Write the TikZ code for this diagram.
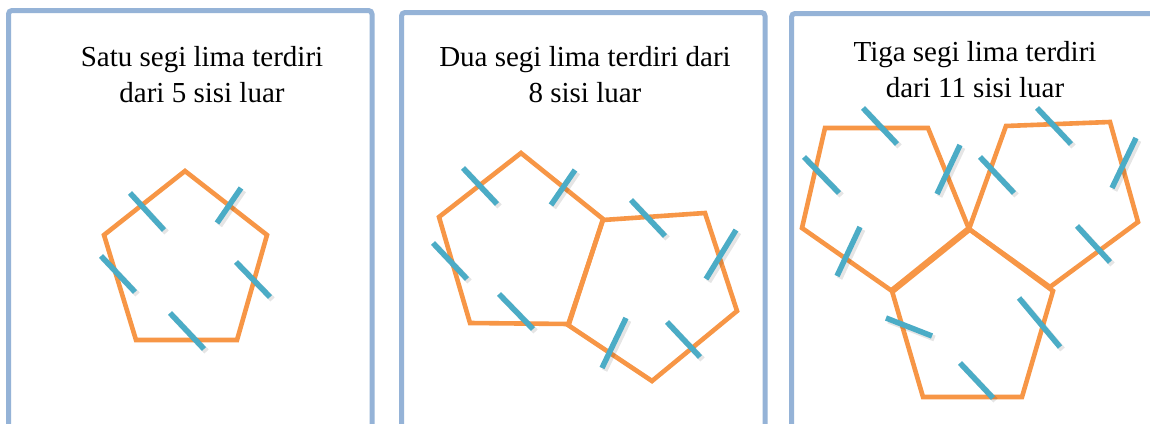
\documentclass[tikz,border=0pt]{standalone}
\usepackage{fontspec}
\setmainfont{Liberation Serif}
\usepackage{tikz}

\definecolor{oranye}{HTML}{F79646}
\definecolor{biru}{HTML}{4BACC6}
\definecolor{bingkaibiru}{HTML}{95B3D7}

\begin{document}
\begin{tikzpicture}[x=0.02cm, y=-0.02cm,
    bingkai/.style={draw=bingkaibiru, line width=5*0.02cm, rounded corners=2pt},
    sisi/.style={draw=oranye, line width=4.6*0.02cm, line join=miter},
    tanda/.style={draw=biru, line width=5.5*0.02cm,
        preaction={draw=black, opacity=0.1, line width=6*0.02cm,
            transform canvas={shift={(0.05cm,-0.05cm)}}}},
    judul/.style={align=center, font=\rmfamily\fontsize{16.5}{20.5}\selectfont, inner sep=0pt}]
        \clip (0,0) rectangle (1150,423);
        \fill[white] (0,0) rectangle (1150,423);

        % bingkai
        \draw[bingkai] (8.5,10.5) rectangle (372,460);
        \draw[bingkai] (401.5,12.5) rectangle (765,460);
        \draw[bingkai] (791.5,13.5) rectangle (1200,460);

        % judul
        \node[judul] (judul1) at (202,75) {Satu segi lima terdiri\\dari 5 sisi luar};
        \node[judul] (judul2) at (585,75) {Dua segi lima terdiri dari\\8 sisi luar};
        \node[judul] (judul3) at (975,70) {Tiga segi lima terdiri\\dari 11 sisi luar};

        % satu segi lima
        \draw[sisi] (185,171) -- (267,235) -- (237,340) -- (136,340) -- (104,235) -- cycle;
        \draw[tanda] (130,193) -- (164,230);
        \draw[tanda] (241,188) -- (217,223);
        \draw[tanda] (101,256) -- (135,292);
        \draw[tanda] (236,262) -- (270,297);
        \draw[tanda] (170,313) -- (204,349);

        % dua segi lima
        \draw[sisi] (521,153) -- (603,219) -- (569,324) -- (470,323) -- (439,217) -- cycle;
        \draw[sisi] (603,220) -- (705,213) -- (737,311) -- (652,381) -- (568,325) -- cycle;
        \draw[tanda] (463,168) -- (497,204);
        \draw[tanda] (575,170) -- (551,205);
        \draw[tanda] (433,243) -- (467,279);
        \draw[tanda] (499,294) -- (533,329);
        \draw[tanda] (631,200) -- (665,236);
        \draw[tanda] (736,230) -- (706,279);
        \draw[tanda] (626,318) -- (602,368);
        \draw[tanda] (667,322) -- (700,357);

        % tiga segi lima
        \draw[sisi] (825,128) -- (928,128) -- (969,229) -- (892,291) -- (802,228) -- cycle;
        \draw[sisi] (1006,126) -- (1110,122) -- (1138,222) -- (1050,287) -- (969,229) -- cycle;
        \draw[sisi] (892,291) -- (969,229) -- (1053,291) -- (1022,397) -- (923,397) -- cycle;
        \draw[sisi, line width=6.5*0.02cm] (892,291) -- (969,229);
        \draw[tanda] (863,108) -- (897,144);
        \draw[tanda] (804,157) -- (839,193);
        \draw[tanda] (960,145) -- (937,194);
        \draw[tanda] (860,227) -- (837,276);
        \draw[tanda] (1037,108) -- (1071,144);
        \draw[tanda] (980,157) -- (1014,193);
        \draw[tanda] (1136,138) -- (1112,188);
        \draw[tanda] (1077,226) -- (1110,262);
        \draw[tanda] (886,318) -- (932,336);
        \draw[tanda] (1019,298) -- (1060,347);
        \draw[tanda] (960,363) -- (993,398);
    \end{tikzpicture}
\end{document}
